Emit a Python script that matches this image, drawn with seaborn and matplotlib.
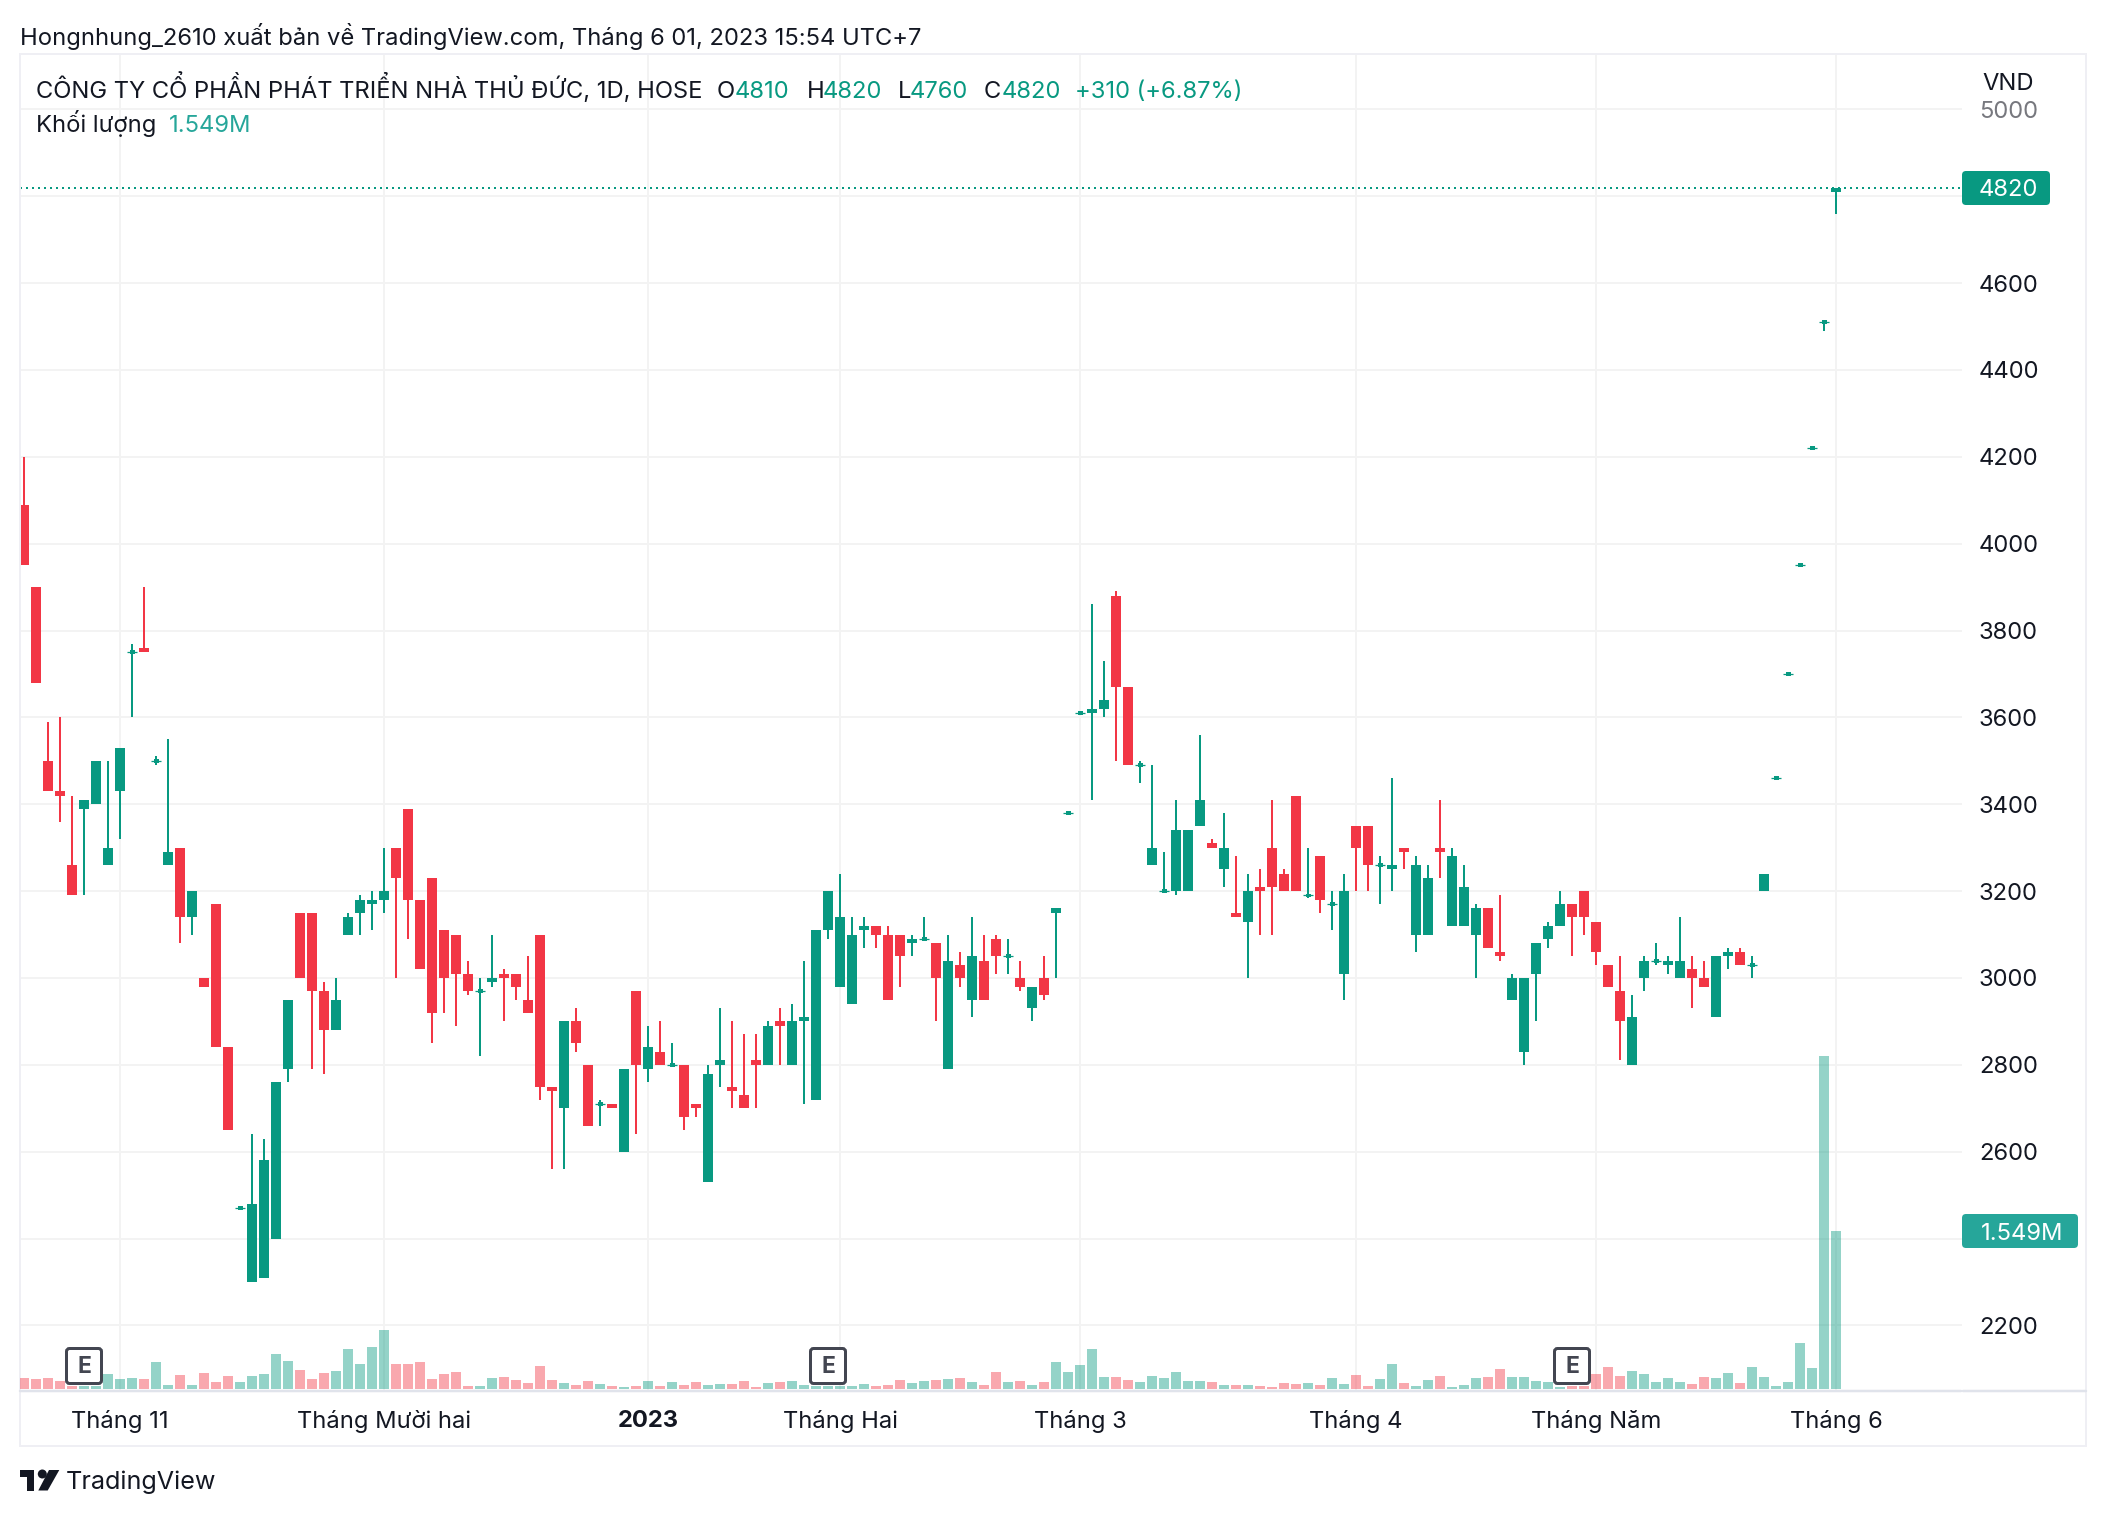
import matplotlib
matplotlib.use("Agg")
import matplotlib.pyplot as plt
import numpy as np
import pandas as pd
import seaborn as sns
from matplotlib.lines import Line2D
from matplotlib.patches import FancyBboxPatch, Rectangle, Polygon, Circle
from matplotlib.transforms import IdentityTransform

opens = [4090,3900,3500,3430,3260,3390,3400,3260,3430,3750,3760,3500,3260,3300,3140,3000,3170,2840,2470,2300,
 2310,2400,2790,3150,3150,2970,2880,3100,3150,3170,3180,3300,3390,3180,3230,3110,3100,3010,2970,2990,
 3010,3010,2950,3100,2750,2700,2900,2800,2710,2710,2600,2970,2790,2830,2800,2800,2710,2530,2800,2750,
 2730,2810,2800,2900,2800,2900,2720,3110,2980,2940,3110,3120,3100,3100,3080,3090,3080,2790,3030,2950,
 3040,3090,3050,3000,2930,3000,3150,3380,3610,3610,3620,3880,3670,3490,3260,3200,3200,3200,3350,3310,
 3250,3150,3130,3210,3300,3240,3420,3190,3280,3170,3010,3350,3350,3260,3250,3300,3100,3100,3300,3120,
 3120,3100,3160,3060,2950,2830,3010,3090,3120,3170,3200,3130,3030,2970,2800,3000,3040,3030,3000,3020,
 3000,2910,3050,3060,3030,3200,3460,3700,3950,4220,4510,4810]
highs = [4200,3900,3590,3600,3420,3410,3500,3500,3530,3770,3900,3510,3550,3300,3200,3000,3170,2840,2470,2640,
 2630,2760,2950,3150,3150,2990,3000,3150,3190,3200,3300,3300,3390,3180,3230,3110,3100,3040,3000,3100,
 3020,3010,3050,3100,2750,2900,2930,2800,2720,2710,2790,2970,2890,2900,2850,2800,2710,2800,2930,2900,
 2870,2870,2900,2930,2940,3040,3110,3200,3240,3140,3140,3120,3120,3100,3100,3140,3080,3100,3060,3140,
 3100,3100,3090,3040,2980,3050,3160,3380,3610,3860,3730,3890,3670,3500,3490,3290,3410,3340,3560,3320,
 3380,3280,3240,3250,3410,3250,3420,3300,3280,3200,3240,3350,3350,3280,3460,3300,3280,3260,3410,3300,
 3260,3170,3160,3190,3010,3000,3080,3130,3200,3170,3200,3130,3030,3050,2960,3050,3080,3050,3140,3050,
 3040,3050,3070,3070,3050,3240,3460,3700,3950,4220,4510,4820]
lows = [3950,3680,3430,3360,3190,3190,3400,3260,3320,3600,3750,3490,3260,3080,3100,2980,2840,2650,2470,2300,
 2310,2400,2760,3000,2790,2780,2880,3100,3100,3110,3150,3000,3090,3020,2850,2920,2890,2960,2820,2980,
 2900,2950,2920,2720,2560,2560,2830,2660,2660,2700,2600,2640,2760,2800,2795,2650,2680,2530,2750,2700,
 2700,2700,2800,2800,2800,2710,2720,3090,2980,2940,3070,3070,2950,2980,3050,3085,2900,2790,2980,2910,
 2950,3010,3010,2970,2900,2950,3000,3380,3610,3410,3600,3500,3490,3450,3260,3195,3190,3200,3350,3300,
 3210,3140,3000,3100,3100,3200,3200,3185,3150,3110,2950,3200,3200,3170,3200,3250,3060,3100,3230,3120,
 3120,3000,3070,3040,2950,2800,2900,3070,3120,3050,3100,3030,2980,2810,2800,2970,3030,3010,3000,2930,
 2980,2910,3020,3030,3000,3200,3460,3700,3950,4220,4490,4760]
closes = [3950,3680,3430,3420,3190,3410,3500,3300,3530,3750,3750,3500,3290,3140,3200,2980,2840,2650,2470,2480,
 2580,2760,2950,3000,2970,2880,2950,3140,3180,3180,3200,3230,3180,3020,2920,3000,3010,2970,2970,3000,
 3000,2980,2920,2750,2740,2900,2850,2660,2710,2700,2790,2800,2840,2800,2800,2680,2700,2780,2810,2740,
 2700,2800,2890,2890,2900,2910,3110,3200,3140,3100,3120,3100,2950,3050,3090,3090,3000,3040,3000,3050,
 2950,3050,3050,2980,2980,2960,3160,3380,3610,3620,3640,3670,3490,3490,3300,3200,3340,3340,3410,3300,
 3300,3140,3200,3200,3210,3200,3200,3190,3180,3170,3200,3300,3260,3260,3260,3290,3260,3230,3290,3280,
 3210,3160,3070,3050,3000,3000,3080,3120,3170,3140,3140,3060,2980,2900,2910,3040,3040,3040,3040,3000,
 2980,3050,3060,3030,3030,3240,3460,3700,3950,4220,4510,4820]
volumes_k = [108,98,108,78,29,29,29,147,98,108,98,265,39,137,39,157,69,127,69,127,
 147,343,275,186,98,157,176,392,245,412,578,245,245,265,98,147,167,29,29,108,
 118,88,59,225,88,59,39,78,49,29,20,29,78,29,69,39,69,39,49,49,
 78,20,59,69,78,39,29,29,29,29,49,29,39,88,59,78,88,98,108,69,
 39,167,69,78,39,69,265,167,235,392,118,118,88,69,127,108,167,78,78,69,
 39,39,39,29,20,59,49,59,39,108,49,137,29,98,245,59,29,88,127,20,
 39,108,118,196,118,118,78,69,20,29,29,147,216,127,176,147,69,108,69,49,
 118,108,157,59,216,118,29,69,451,206,3264,1549]
x_tick_pos = [8, 30, 52, 68, 88, 111, 131, 151]
x_tick_labels = ["Tháng 11", "Tháng Mười hai", "2023", "Tháng Hai", "Tháng 3", "Tháng 4", "Tháng Năm", "Tháng 6"]
y_ticks = [2200, 2400, 2600, 2800, 3000, 3200, 3400, 3600, 3800, 4000, 4200, 4400, 4600, 4800, 5000]
y_tick_labels = ["2200", "", "2600", "2800", "3000", "3200", "3400", "3600", "3800", "4000", "4200", "4400", "4600", "", "5000"]
earnings_idx = [5, 67, 129]

GREEN, RED = "#089981", "#F23645"
VOL_TEAL = "#26A69A"
INK = "#131722"
GRID = "#F3F3F3"
BORDER = "#EFEFF4"

W, H = 2106, 1516
sns.set_theme(style="white")
FONT = ["Inter", "DejaVu Sans"]
plt.rcParams["font.family"] = FONT
plt.rcParams["axes.unicode_minus"] = False

fig = plt.figure(figsize=(W / 100, H / 100), dpi=100, facecolor="white")
AX_L, AX_R, AX_T, AX_B = 20, 1962, 54, 1391
rect = [AX_L / W, 1 - AX_B / H, (AX_R - AX_L) / W, (AX_B - AX_T) / H]

df = pd.DataFrame({"i": np.arange(len(opens)), "open": opens, "high": highs, "low": lows,
                   "close": closes, "volume": volumes_k})
df["dir"] = np.where(df["close"] >= df["open"], "up", "down")

# price pane with the grid, under the volume pane
ax = fig.add_axes(rect, zorder=0)
ax.set_ylim(2049, 5127.5)
ax.set_xlim(-1 / 3, 161.5)
ax.yaxis.tick_right()
ax.set_yticks(y_ticks)
ax.set_yticklabels(y_tick_labels, fontsize=17.1, color=INK, ha="left")
ax.get_yticklabels()[-1].set_color("#77787E")
ax.set_xticks(x_tick_pos)
ax.set_xticklabels(x_tick_labels, fontsize=17.1, color=INK)
ax.get_xticklabels()[2].set_fontweight("bold")
ax.tick_params(axis="y", length=0, pad=12.2)
ax.tick_params(axis="x", length=0, pad=13.5)
ax.grid(True, color=GRID, linewidth=2 * 0.72)
ax.set_axisbelow(True)
for side in ["top", "right", "left", "bottom"]:
    ax.spines[side].set_visible(False)

o, c, hi, lo = df["open"].values, df["close"].values, df["high"].values, df["low"].values
x = df["i"].values
cols = np.where(c >= o, GREEN, RED)
ax.vlines(x, lo, hi, colors=cols, linewidth=2 * 0.72, zorder=3)
real = o != c
ax.bar(x[real], np.abs(c - o)[real], bottom=np.minimum(o, c)[real], width=10 / 12,
       color=cols[real], linewidth=0, zorder=4)
doji = ~real
ax.bar(x[doji], 9, bottom=o[doji] - 4.5, width=5 / 12, color=cols[doji], linewidth=0, zorder=4)
ax.hlines(o[doji], x[doji] - 5 / 12, x[doji] + 5 / 12, colors=cols[doji], linewidth=0.9, zorder=4)
ax.axhline(closes[-1], color=GREEN, linewidth=2 * 0.72, linestyle=(0, (1, 2)), zorder=2)

# volume pane, transparent, over the grid
axv = fig.add_axes(rect, zorder=1)
axv.patch.set_alpha(0)
sns.barplot(data=df, x="i", y="volume", hue="dir", palette={"up": GREEN, "down": RED},
            native_scale=True, dodge=False, width=0.82, alpha=0.43, legend=False, ax=axv,
            saturation=1, linewidth=0)
axv.set_ylim(-20, 13088)
axv.set_xlim(-1 / 3, 161.5)
axv.axis("off")

# ---- frame, tags and header in pixel positions ----
ID = IdentityTransform()
def fy(y):
    return H - y
fig.add_artist(Rectangle((AX_L, fy(1446)), 2086 - AX_L, 1446 - 54, transform=ID, fill=False,
                         edgecolor=BORDER, linewidth=2 * 0.72, zorder=0.5))
fig.add_artist(Line2D([AX_L, AX_R - 1], [fy(1391), fy(1391)], transform=ID, color="#E0E3EB", linewidth=2.5 * 0.72, zorder=2))
fig.add_artist(Line2D([AX_R + 1, 2086], [fy(1391), fy(1391)], transform=ID, color="#E0E3EB", linewidth=2.5 * 0.72, zorder=2))

def label(px, py, s, color=INK, size=17.1, ha="left", weight="normal"):
    fig.text(px / W, 1 - py / H, s, color=color, fontsize=size, ha=ha, va="baseline",
             fontweight=weight, zorder=8)

def tag(x0, x1, y0, y1, color):
    fig.add_artist(FancyBboxPatch((x0 + 3, fy(y1) + 3), x1 - x0 - 6, y1 - y0 - 6,
                                  boxstyle="round,pad=3,rounding_size=4", transform=ID,
                                  facecolor=color, edgecolor="none", zorder=7))

tag(1962, 2050, 171, 205, GREEN)
label(2008, 196, "4820", color="white", ha="center")
tag(1962, 2078, 1214, 1248, VOL_TEAL)
label(2022.5, 1239.5, "1.549M", color="white", ha="center")
label(2008, 90, "VND", ha="center")

label(20, 44.5, "Hongnhung_2610 xuất bản về TradingView.com, Tháng 6 01, 2023 15:54 UTC+7")
label(36, 98, "CÔNG TY CỔ PHẦN PHÁT TRIỂN NHÀ THỦ ĐỨC, 1D, HOSE")
for px_, s_, col_ in [(717, "O", INK), (735, "4810", GREEN), (807, "H", INK), (823, "4820", GREEN),
                      (898, "L", INK), (910, "4760", GREEN), (984, "C", INK), (1002, "4820", GREEN),
                      (1075, "+310 (+6.87%)", GREEN)]:
    label(px_, 98, s_, color=col_)
label(36, 132, "Khối lượng")
label(169, 132, "1.549M", color=VOL_TEAL)

for i_ in earnings_idx:
    cx = 24 + 12 * i_
    fig.add_artist(FancyBboxPatch((cx - 16, fy(1382)), 32, 32, boxstyle="round,pad=1.5,rounding_size=3",
                                  transform=ID, facecolor="white", edgecolor="#434651", linewidth=3 * 0.72, zorder=7))
    label(cx, 1373, "E", color="#434651", size=16.5, ha="center", weight="bold")

# TradingView logo
logo = "#131722"
fig.add_artist(Polygon([(20, fy(1470)), (34.3, fy(1470)), (34.3, fy(1490.5)), (27.3, fy(1490.5)), (27.3, fy(1477)), (20, fy(1477))],
                       transform=ID, facecolor=logo, edgecolor="none", zorder=7))
fig.add_artist(Circle((42.3, fy(1474)), 4.5, transform=ID, facecolor=logo, edgecolor="none", zorder=7))
fig.add_artist(Polygon([(49, fy(1470)), (59.3, fy(1470)), (47.7, fy(1490.5)), (38.3, fy(1490.5))],
                       transform=ID, facecolor=logo, edgecolor="none", zorder=7))
label(66, 1489.5, "TradingView", size=18.1)

fig.savefig("out.png", dpi=100, facecolor="white")
